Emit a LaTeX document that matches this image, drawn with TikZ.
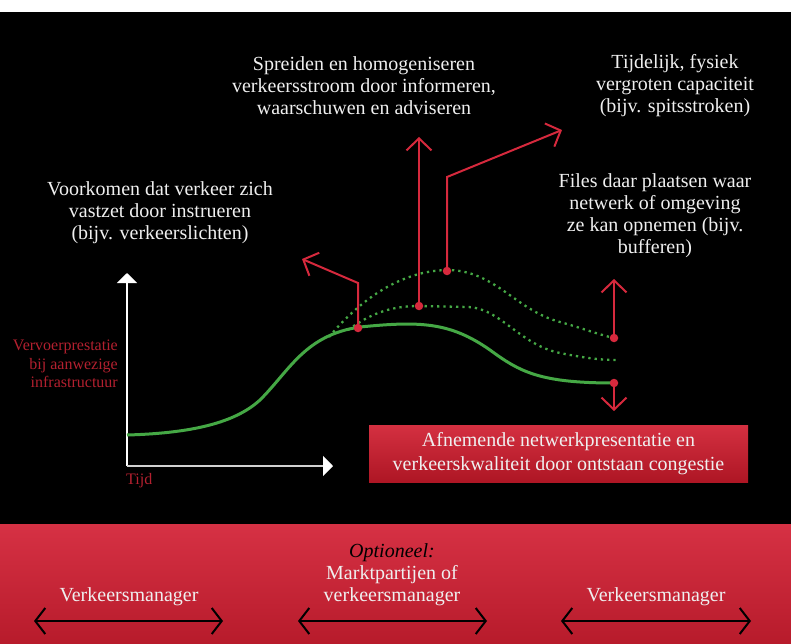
\documentclass[tikz,border=0pt]{standalone}
\usepackage{fontspec}
\setmainfont{Liberation Serif}
\usetikzlibrary{arrows.meta}
\definecolor{bandtop}{HTML}{D63144}
\definecolor{bandbot}{HTML}{B71B2B}
\definecolor{boxtop}{HTML}{D43041}
\definecolor{boxbot}{HTML}{AE1624}
\definecolor{mark}{HTML}{D6293D}
\definecolor{axlab}{HTML}{B3202F}
\definecolor{curve}{HTML}{45A845}
\definecolor{txtc}{HTML}{EFEFEF}
\tikzset{
  txt/.style={text=txtc, align=center, inner sep=0pt, font=\fontsize{20}{22}\selectfont},
  ylab/.style={text=axlab, align=right, inner sep=0pt, font=\fontsize{16}{18.5}\selectfont},
  dot/.style={circle, fill=mark, draw=none, inner sep=0pt, minimum size=8.5pt},
  redarr/.style={draw=mark, line width=2pt, -{Straight Barb[length=12pt,width=25pt]}},
  axis/.style={line width=2pt, -{Triangle[length=10pt,width=20pt]}},
  solidc/.style={draw=curve, line width=3pt},
  dotc/.style={draw=curve, line width=2.3pt, dash pattern=on 2.3pt off 4pt},
  dbl/.style={draw=black, line width=2pt, {Straight Barb[length=10pt,width=26pt]}-{Straight Barb[length=10pt,width=26pt]}},
  cbox/.style={top color=boxtop, bottom color=boxbot, draw=none, minimum width=379pt, minimum height=57pt, text=txtc, align=center, font=\fontsize{20}{24}\selectfont, inner sep=0pt}
}
\begin{document}
\begin{tikzpicture}[x=1pt,y=-1pt]
\useasboundingbox (0,0) rectangle (791,644);
\fill[white] (0,0) rectangle (791,12);
\fill[black] (0,12) rectangle (791,524);
\shade[top color=bandtop,bottom color=bandbot] (0,524) rectangle (791,644);

% axes
\coordinate (o) at (127,466);
\coordinate (ytip) at (127,273);
\coordinate (xtip) at (333,466);
\draw[axis, draw=white, fill=white] (o) -- (ytip);
\draw[axis, draw=white!82!black, -{Triangle[length=10pt,width=20pt,fill=white,color=white]}] (o) -- (xtip);

% curves
\draw[solidc] (127,435) .. controls (200,433) and (238,420) .. (260,400)
  .. controls (290,370) and (305,335) .. (360,327)
  .. controls (420,321) and (450,322) .. (490,350)
  .. controls (520,372) and (540,383) .. (614,383);
\draw[dotc] (329,337) .. controls (360,300) and (400,271) .. (447,270)
  .. controls (495,270) and (515,310) .. (560,322)
  .. controls (585,329) and (600,335) .. (614,338);
\draw[dotc] (348,330) .. controls (370,314) and (390,306) .. (419,306)
  -- (468,307) .. controls (500,308) and (520,345) .. (560,353)
  .. controls (585,358) and (600,360) .. (618,360);

% markers
\node[dot] (d1) at (358,328) {};
\node[dot] (d2) at (419,306) {};
\node[dot] (d3) at (447,271) {};
\node[dot] (d4) at (614,338) {};
\node[dot] (d5) at (614,383) {};
\coordinate (k1) at (358,283);
\coordinate (e1) at (302,259);
\coordinate (e2) at (419,137);
\coordinate (k3) at (447,177);
\coordinate (e3) at (562,130);
\coordinate (e4) at (614,279);
\coordinate (e5) at (614,411);
\draw[redarr] (d1.center) -- (k1) -- (e1);
\draw[redarr] (d2.center) -- (e2);
\draw[redarr] (d3.center) -- (k3) -- (e3);
\draw[redarr] (d4.center) -- (e4);
\draw[redarr] (d5.center) -- (e5);

% texts
\node[txt] (t1) at (364,86) {Spreiden en homogeniseren\\verkeersstroom door informeren,\\waarschuwen en adviseren};
\node[txt] (t2) at (675,86) {Tijdelijk, fysiek\\vergroten capaciteit\\(bijv. spitsstroken)};
\node[txt] (t3) at (160,213) {Voorkomen dat verkeer zich\\vastzet door instrueren\\(bijv. verkeerslichten)};
\node[txt] (t4) at (655,216) {Files daar plaatsen waar\\netwerk of omgeving\\ze kan opnemen (bijv.\\bufferen)};
\node[ylab, anchor=east] (yl) at (118,364) {Vervoerprestatie\\bij aanwezige\\infrastructuur};
\node[text=axlab, anchor=west, inner sep=0pt, font=\fontsize{16}{18}\selectfont] (xl) at (126,481) {Tijd};

\node[cbox] (cong) at (558.5,453.5) {Afnemende netwerkpresentatie en\\verkeerskwaliteit door ontstaan congestie};

% bottom band
\node[txt] (b1) at (129,597) {Verkeersmanager};
\node[txt] (b2) at (392,575) {\textcolor{black}{\itshape Optioneel:}\\Marktpartijen of\\verkeersmanager};
\node[txt] (b3) at (656,597) {Verkeersmanager};
\coordinate (a1l) at (34,621);
\coordinate (a1r) at (223,621);
\coordinate (a2l) at (298,621);
\coordinate (a2r) at (487,621);
\coordinate (a3l) at (561,621);
\coordinate (a3r) at (751,621);
\draw[dbl] (a1l) -- (a1r);
\draw[dbl] (a2l) -- (a2r);
\draw[dbl] (a3l) -- (a3r);
\end{tikzpicture}
\end{document}
